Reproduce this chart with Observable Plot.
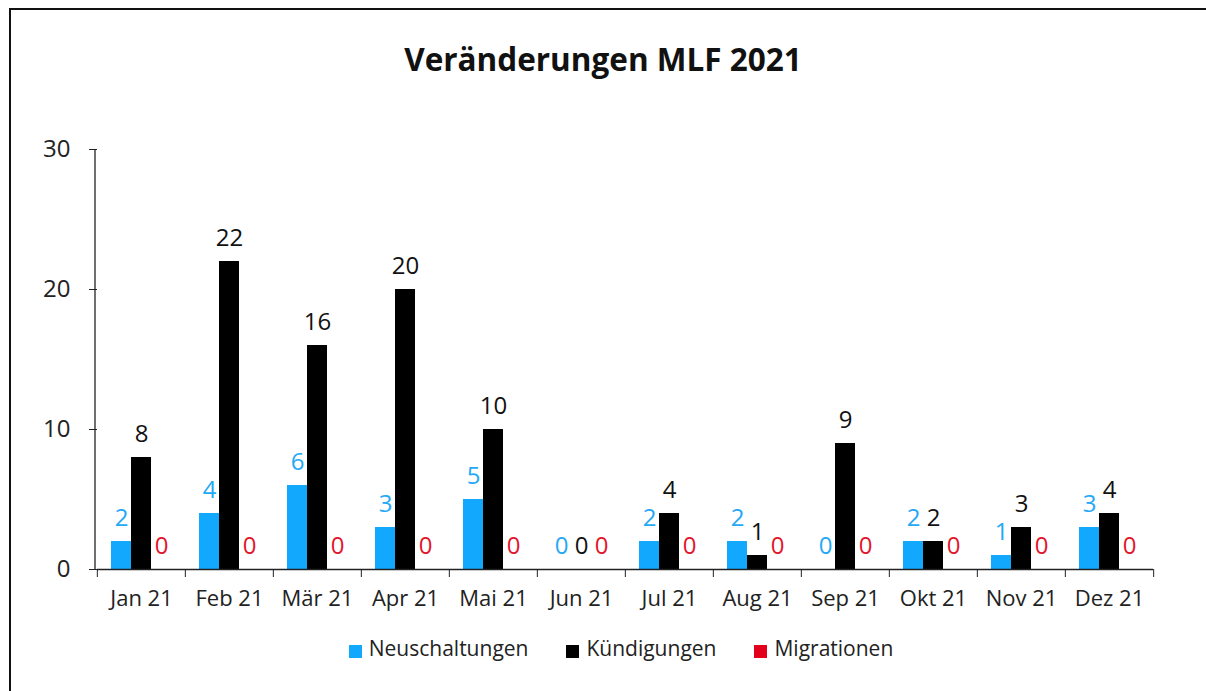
<!DOCTYPE html>
<html>
<head>
<meta charset="utf-8">
<script src="https://cdn.jsdelivr.net/npm/d3@7"></script>
<script src="https://cdn.jsdelivr.net/npm/@observablehq/plot@0.6"></script>
<style>
  html, body { margin: 0; padding: 0; background: #fff; overflow: hidden; width: 1206px; height: 691px; }
  body { font-family: "Open Sans", sans-serif; position: relative; }
  #frame { position: absolute; left: 9px; top: 8px; width: 1300px; height: 800px; border-left: 2px solid #111; border-top: 2px solid #111; box-sizing: border-box; }
  #title { position: absolute; left: 0; top: 39px; width: 1206px; text-align: center; font-size: 31.5px; line-height: 40px; font-weight: bold; color: #111; }
  #chart { position: absolute; left: 0; top: 100px; }
  #legend { position: absolute; left: 91px; width: 1060px; top: 634px; display: flex; justify-content: center; gap: 38px; font-size: 21px; color: #222; line-height: 28px; }
  .item { display: flex; align-items: center; gap: 7px; }
  .sw { width: 13px; height: 13px; display: inline-block; margin-top: 6px; }
</style>
</head>
<body>
<div id="frame"></div>
<div id="title">Veränderungen MLF 2021</div>
<div id="chart"></div>
<div id="legend"></div>
<script>
const months = ["Jan 21","Feb 21","Mär 21","Apr 21","Mai 21","Jun 21","Jul 21","Aug 21","Sep 21","Okt 21","Nov 21","Dez 21"];
const series = ["Neuschaltungen","Kündigungen","Migrationen"];
const neuschaltungen = [2,4,6,3,5,0,2,2,0,2,1,3];
const kuendigungen = [8,22,16,20,10,0,4,1,9,2,3,4];
const migrationen = [0,0,0,0,0,0,0,0,0,0,0,0];
const barColors = ["#12a8fd","#000000","#e2001a"];
const labelColors = ["#1fa9f6","#111111","#e2162b"];
const yTicks = [0,10,20,30];

const values = [neuschaltungen, kuendigungen, migrationen];
const data = [];
months.forEach((m, i) => series.forEach((s, j) => data.push({month: m, series: s, value: values[j][i]})));

const width = 1206, marginLeft = 95, marginRight = 51;
const step = (width - marginLeft - marginRight) / months.length;

const plot = Plot.plot({
  width,
  height: 519,
  marginTop: 49,
  marginBottom: 50,
  marginLeft,
  marginRight,
  style: {fontFamily: "'Open Sans', sans-serif", fontSize: "22px", color: "#222", background: "transparent"},
  fx: {domain: months, padding: 0, axis: null},
  x: {domain: series, paddingInner: 0, paddingOuter: 0.7, axis: null},
  y: {domain: [0, 30], axis: null},
  color: {domain: series, range: barColors},
  marks: [
    Plot.axisY({ticks: yTicks, tickSize: 8, tickPadding: 19, fontSize: 24, label: null, stroke: "#222", fill: "#222"}),
    Plot.barY(data, {fx: "month", x: "series", y: "value", fill: "series"}),
    Plot.text(data, {fx: "month", x: "series", y: "value", text: d => String(d.value), fill: d => labelColors[series.indexOf(d.series)], fontSize: 24, dy: -23}),
    Plot.ruleY([0], {stroke: "#222", strokeWidth: 1.3}),
    Plot.axisFx({anchor: "bottom", tickSize: 0, tickPadding: 21, fontSize: 22, fill: "#222", label: null}),
    Plot.axisFx({anchor: "bottom", tickSize: 8, text: null, dx: -step / 2, stroke: "#222", label: null}),
    Plot.axisFx({anchor: "bottom", ticks: [months[months.length - 1]], tickSize: 8, text: null, dx: step / 2, stroke: "#222", label: null})
  ]
});
document.getElementById("chart").appendChild(plot);

// y axis line drawn from the y scale
const ys = plot.scale("y");
const svg = d3.select(plot);
const yScale = d3.scaleLinear().domain(ys.domain).range(ys.range);
svg.append("line")
  .attr("x1", marginLeft).attr("x2", marginLeft)
  .attr("y1", yScale(30)).attr("y2", yScale(0))
  .attr("stroke", "#222").attr("stroke-width", 1.3);

const legend = document.getElementById("legend");
series.forEach((s, j) => {
  const it = document.createElement("div");
  it.className = "item";
  const sw = document.createElement("span");
  sw.className = "sw";
  sw.style.background = barColors[j];
  const t = document.createElement("span");
  t.textContent = s;
  it.appendChild(sw); it.appendChild(t);
  legend.appendChild(it);
});
</script>
</body>
</html>
